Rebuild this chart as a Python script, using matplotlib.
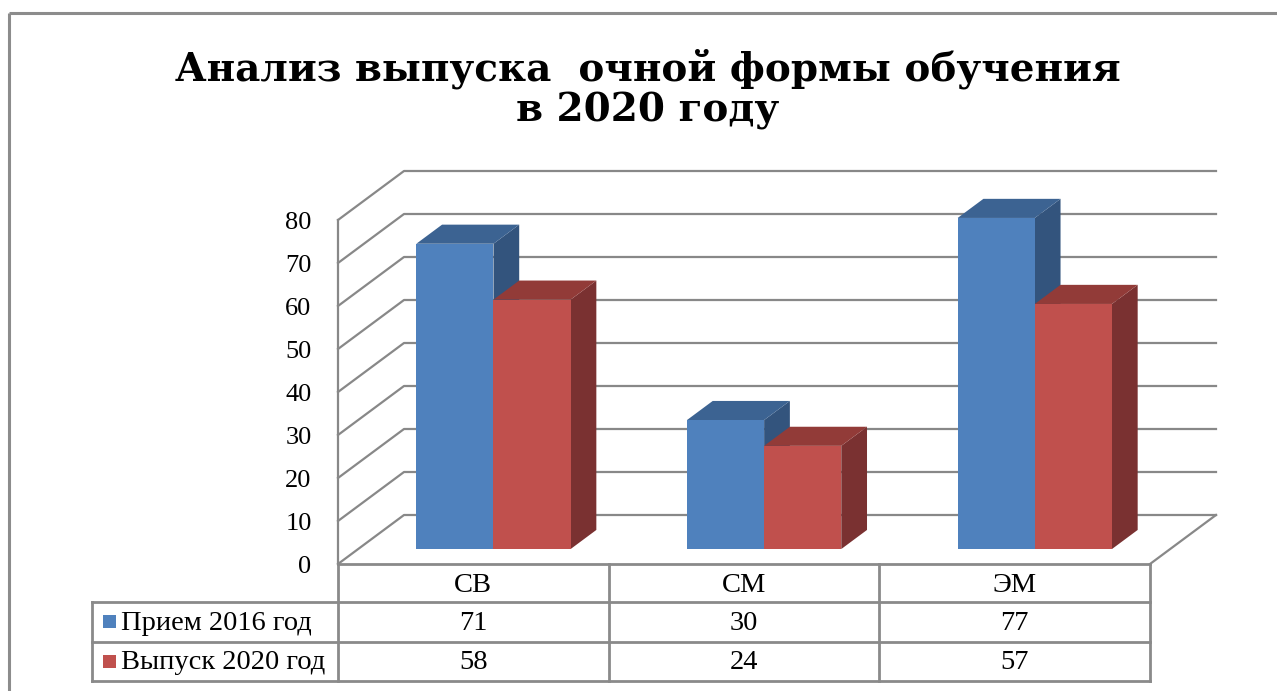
import matplotlib
matplotlib.use("Agg")
import matplotlib.pyplot as plt
from matplotlib.patches import Polygon, Rectangle
from matplotlib.lines import Line2D
from matplotlib.transforms import ScaledTranslation

# ---- data ----
categories = ["СВ", "СМ", "ЭМ"]
series_names = ["Прием 2016 год", "Выпуск 2020 год"]
priem_2016 = [71, 30, 77]
vypusk_2020 = [58, 24, 57]
y_ticks = [0, 10, 20, 30, 40, 50, 60, 70, 80]
title_line1 = "Анализ выпуска  очной формы обучения"
title_line2 = "в 2020 году"

# ---- style ----
W, H = 1277, 691
front_cols = ["#4F81BD", "#C0504D"]
top_cols = ["#3C6392", "#923B38"]
side_cols = ["#33547D", "#7A3131"]
grid_col = "#888888"
serif = ["Liberation Serif", "DejaVu Serif"]

fig = plt.figure(figsize=(W / 100, H / 100), dpi=100)

# overlay axes in pixel coordinates for frame / title / table
ov = fig.add_axes([0, 0, 1, 1])
ov.set_xlim(0, W)
ov.set_ylim(H, 0)
ov.axis("off")

# front plane of 3-D plot
left_px, right_px, bot_px, top_px = 338, 1150, 564, 220
ax = fig.add_axes([left_px / W, (H - bot_px) / H, (right_px - left_px) / W, (bot_px - top_px) / H])
ax.set_xlim(0, len(categories))
ax.set_ylim(0, 80)
for s in ax.spines.values():
    s.set_visible(False)
ax.set_xticks([])
ax.set_yticks(y_ticks)
ax.set_yticklabels([str(t) for t in y_ticks], family=serif, fontsize=19)
ax.tick_params(axis="y", length=0, pad=19)
shift = ScaledTranslation(0, -3 / 100, fig.dpi_scale_trans)
for lab in ax.get_yticklabels():
    lab.set_va("center")
    lab.set_transform(lab.get_transform() + shift)
ax.patch.set_alpha(0)

# depth offset in data units (oblique projection)
DX = 66 / ((right_px - left_px) / len(categories))
DY = 49 / ((bot_px - top_px) / 80)


def P(x, y, z):
    return (x + z * DX, y + z * DY)


n = len(categories)
# back wall gridlines and side wall diagonals
for t in y_ticks:
    xs, ys = zip(P(0, t, 0), P(0, t, 1), P(n, t, 1))
    ax.add_line(Line2D(xs, ys, color=grid_col, lw=1.6, clip_on=False, zorder=1))
# front-left axis line
ax.add_line(Line2D([0, 0], [0, 80], color=grid_col, lw=1.6, clip_on=False, zorder=1))
# floor right edge
xs, ys = zip(P(n, 0, 0), P(n, 0, 1))
ax.add_line(Line2D(xs, ys, color=grid_col, lw=1.6, clip_on=False, zorder=1))

# bars
bw = 0.285
z0, z1 = 0.305, 0.695
for i in range(n):
    for k, vals in enumerate([priem_2016, vypusk_2020]):
        v = vals[i]
        xa = i + 0.5 - bw + k * bw
        xb = xa + bw
        front = [P(xa, 0, z0), P(xb, 0, z0), P(xb, v, z0), P(xa, v, z0)]
        top = [P(xa, v, z0), P(xb, v, z0), P(xb, v, z1), P(xa, v, z1)]
        side = [P(xb, 0, z0), P(xb, 0, z1), P(xb, v, z1), P(xb, v, z0)]
        zb = 3 + i * 2 + k
        ax.add_patch(Polygon(side, closed=True, fc=side_cols[k], ec="none", clip_on=False, zorder=zb))
        ax.add_patch(Polygon(top, closed=True, fc=top_cols[k], ec="none", clip_on=False, zorder=zb))
        ax.add_patch(Polygon(front, closed=True, fc=front_cols[k], ec="none", clip_on=False, zorder=zb))

# ---- outer frame ----
fcol = "#8c8c8c"
ov.plot([9, W], [12.5, 12.5], color=fcol, lw=2.2, solid_capstyle="butt")
ov.plot([9, 9], [12.5, H], color=fcol, lw=2.2, solid_capstyle="butt")

# ---- title ----
tfam = ["DejaVu Serif"]
ov.text(648, 80, title_line1, ha="center", va="baseline", fontsize=28, fontweight="bold", family=tfam)
ov.text(648, 121, title_line2, ha="center", va="baseline", fontsize=28, fontweight="bold", family=tfam)

# ---- data table ----
tcol = "#8a8a8a"
col_x = [left_px + (right_px - left_px) * j / n for j in range(n + 1)]
row_y = [564, 602, 642, 681]
lab_left = 92
lw_t = 2.0
ov.plot([left_px, right_px], [row_y[0], row_y[0]], color=tcol, lw=lw_t)
for yy in row_y[1:]:
    ov.plot([lab_left, right_px], [yy, yy], color=tcol, lw=lw_t)
for xx in col_x:
    ov.plot([xx, xx], [row_y[0], row_y[3]], color=tcol, lw=lw_t)
ov.plot([lab_left, lab_left], [row_y[1], row_y[3]], color=tcol, lw=lw_t)

fs_t = 20.5
for j, c in enumerate(categories):
    ov.text((col_x[j] + col_x[j + 1]) / 2, (row_y[0] + row_y[1]) / 2 + 2, c, ha="center", va="center",
            fontsize=fs_t, family=serif)
for r, (name, vals) in enumerate(zip(series_names, [priem_2016, vypusk_2020])):
    yc = (row_y[r + 1] + row_y[r + 2]) / 2
    ov.add_patch(Rectangle((103, yc - 7), 13, 13, fc=front_cols[r], ec="none"))
    ov.text(121, yc + 1, name, ha="left", va="center", fontsize=fs_t, family=serif)
    for j, v in enumerate(vals):
        ov.text((col_x[j] + col_x[j + 1]) / 2, yc + 1, str(v), ha="center", va="center",
                fontsize=fs_t, family=serif)

fig.savefig("out.png", dpi=100)
